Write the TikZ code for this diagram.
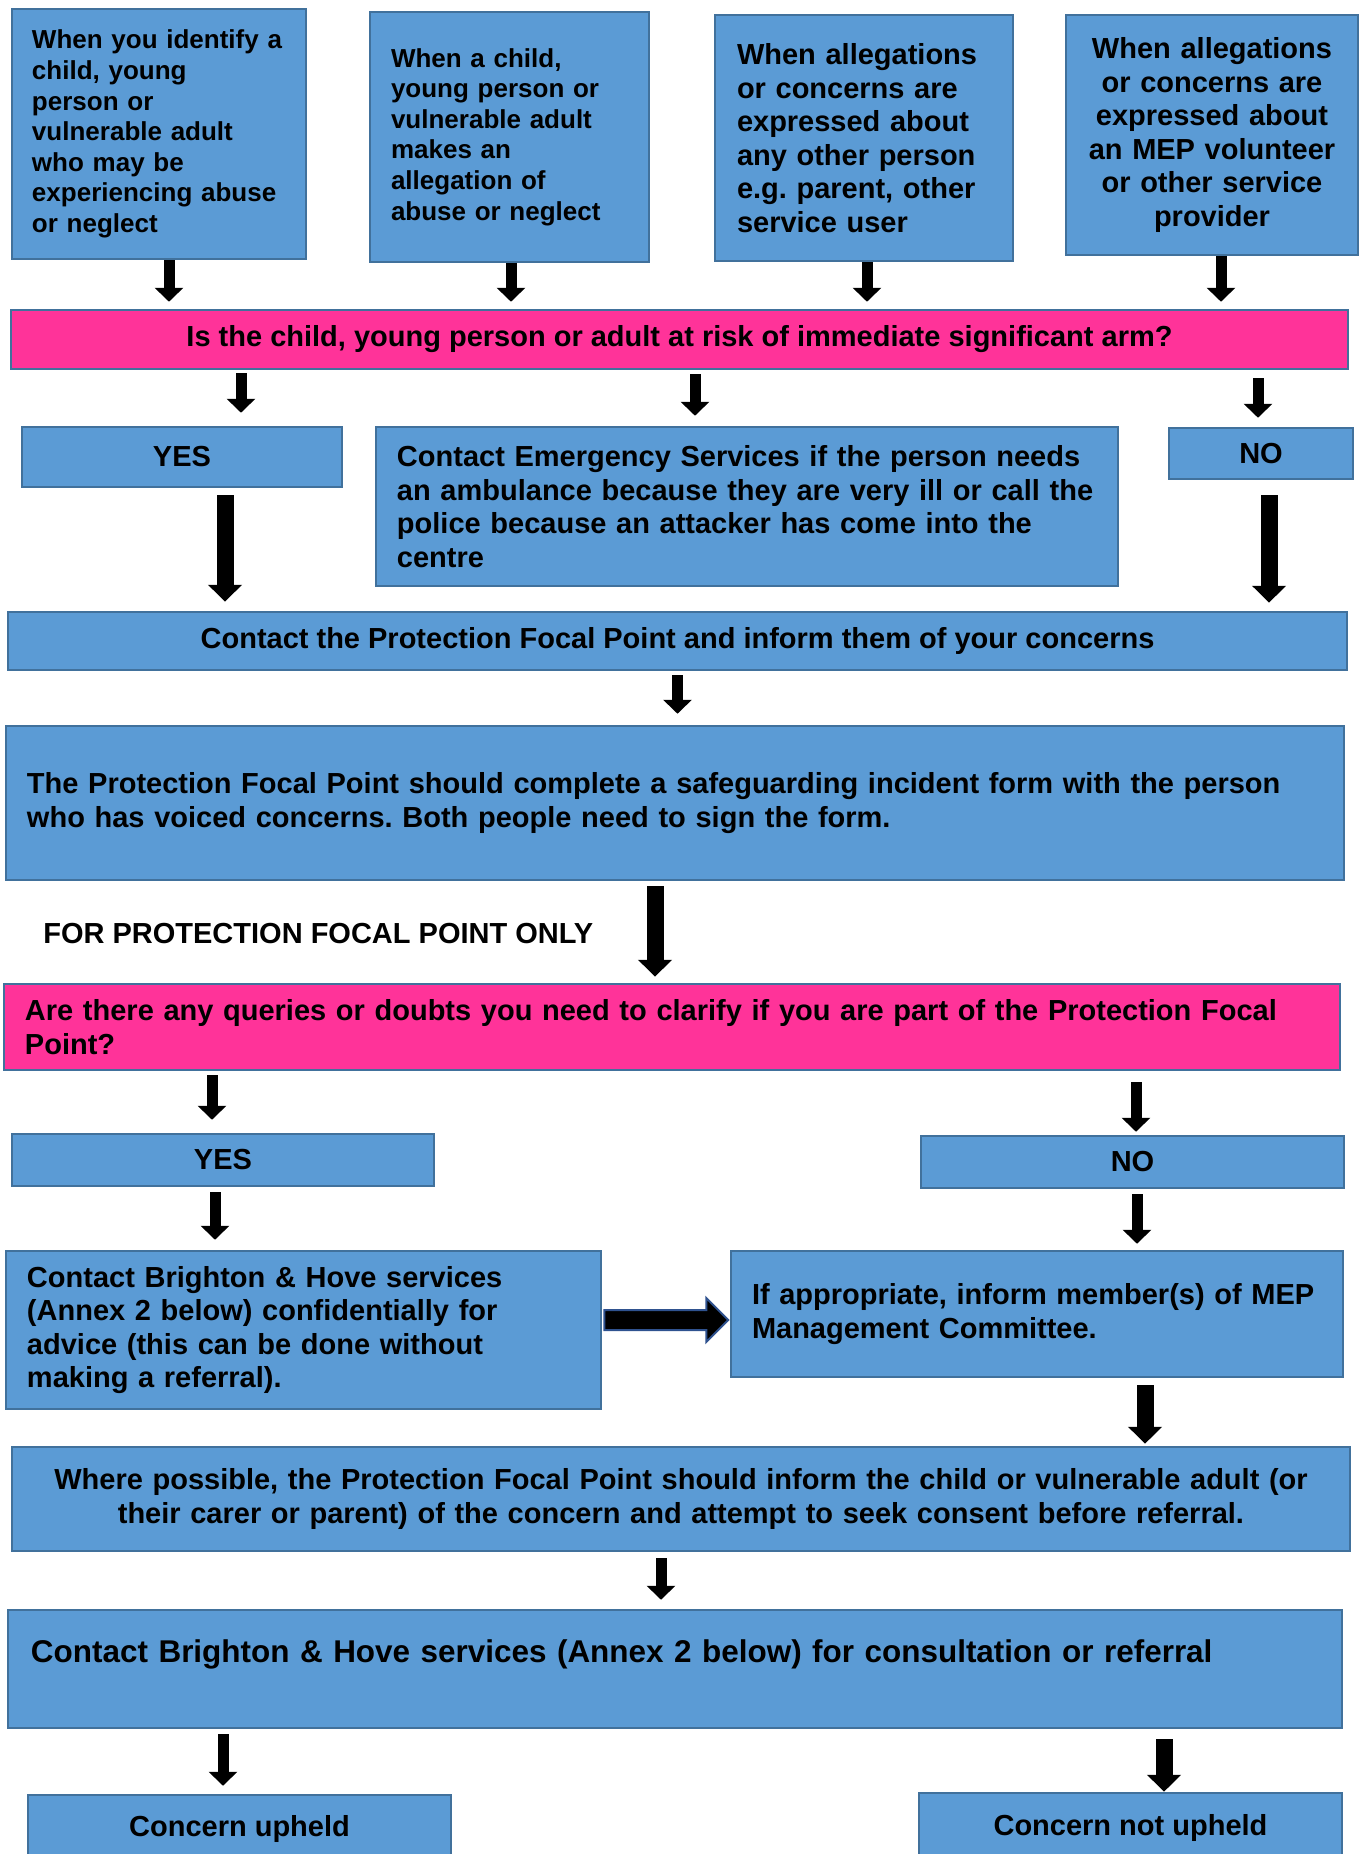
\documentclass[tikz,border=0pt]{standalone}
\usepackage{fontspec}
\setmainfont{Liberation Sans}
\usepackage{xcolor}
\usepackage{tikz}
\usetikzlibrary{arrows.meta,calc}

\definecolor{boxblue}{HTML}{5B9BD5}
\definecolor{boxline}{HTML}{41719C}
\definecolor{alertpink}{HTML}{FF3399}
\definecolor{arrowline}{HTML}{2F528F}
\newcommand{\sizeA}{\fontsize{14.8}{17.4}\selectfont}
\newcommand{\sizeB}{\fontsize{16.5}{19.1}\selectfont}
\newcommand{\sizeC}{\fontsize{17.9}{21}\selectfont}
\frenchspacing

\begin{document}
\begin{tikzpicture}[x=0.2mm, y=-0.2mm,
    box/.style={draw=boxline, fill=boxblue, line width=0.5mm, inner ysep=0pt, inner xsep=4.2mm, font=\sizeB\bfseries},
    alert/.style={box, fill=alertpink},
    arr/.style={line width=2.2mm, -{Triangle[length=2.8mm, width=5.6mm]}},
    bigarr/.style={line width=3.4mm, -{Triangle[length=3.4mm, width=6.6mm]}}]
    \useasboundingbox (0,0) rectangle (1362,1854);
    \clip (0,0) rectangle (1362,1854);

    \node[box, font=\sizeA\bfseries, inner xsep=4mm, minimum width=58.8mm, minimum height=50mm, text width=50.8mm, align=left] (identify) at (159,134)
        {When you identify a\\child, young\\person or\\vulnerable adult\\who may be\\experiencing abuse\\or neglect};
    \node[box, font=\sizeA\bfseries, minimum width=55.8mm, minimum height=50mm, text width=47.4mm, align=left] (allege) at (509.5,137)
        {When a child,\\young person or\\vulnerable adult\\makes an\\allegation of\\abuse or neglect};
    \node[box, inner xsep=4.4mm, minimum width=59.6mm, minimum height=49.2mm, text width=50.8mm, align=left] (other) at (864,138)
        {When allegations\\or concerns are\\expressed about\\any other person\\e.g. parent, other\\service user};
    \node[box, inner xsep=3mm, minimum width=58.4mm, minimum height=48mm, text width=52.4mm, align=center] (volunteer) at (1212,135)
        {When allegations\\or concerns are\\expressed about\\an MEP volunteer\\or other service\\provider};
    \node[alert, minimum width=267.4mm, minimum height=11.8mm] (risk) at (679.5,339.5)
        {Is the child, young person or adult at risk of immediate significant arm?};
    \node[box, minimum width=64mm, minimum height=12mm] (yesA) at (182,457) {YES};
    \node[box, minimum width=148.4mm, minimum height=31.8mm, text width=140mm, align=left] (emergency) at (747,506.5)
        {Contact Emergency Services if the person needs\\an ambulance because they are very ill or call the\\police because an attacker has come into the\\centre};
    \node[box, minimum width=36.8mm, minimum height=10.2mm] (noA) at (1261,453.5) {NO};
    \node[box, minimum width=267.8mm, minimum height=11.6mm] (focal) at (677.5,641)
        {Contact the Protection Focal Point and inform them of your concerns};
    \node[box, minimum width=267.6mm, minimum height=30.8mm, text width=259.2mm, align=left] (form) at (675,803)
        {The Protection Focal Point should complete a safeguarding incident form with the person\\who has voiced concerns. Both people need to sign the form.};
    \node[font=\sizeB\bfseries, anchor=west, inner sep=0pt] (only) at (43,934) {FOR PROTECTION FOCAL POINT ONLY};
    \node[alert, minimum width=267.2mm, minimum height=17.2mm, text width=258.8mm, align=left] (query) at (672,1027)
        {Are there any queries or doubts you need to clarify if you are part of the Protection Focal\\Point?};
    \node[box, minimum width=84.4mm, minimum height=10.4mm] (yesB) at (223,1160) {YES};
    \node[box, minimum width=84.6mm, minimum height=10.4mm] (noB) at (1132.5,1162) {NO};
    \node[box, minimum width=119mm, minimum height=31.6mm, text width=110.6mm, align=left] (advice) at (303.5,1330)
        {Contact Brighton \& Hove services\\(Annex 2 below) confidentially for\\advice (this can be done without\\making a referral).};
    \node[box, minimum width=122.4mm, minimum height=25.2mm, text width=114mm, align=left] (inform) at (1037,1314)
        {If appropriate, inform member(s) of MEP\\Management Committee.};
    \node[box, minimum width=267.6mm, minimum height=20.8mm, text width=259.2mm, align=center] (consent) at (681,1499)
        {Where possible, the Protection Focal Point should inform the child or vulnerable adult (or\\their carer or parent) of the concern and attempt to seek consent before referral.};
    \node[box, font=\sizeC\bfseries, inner xsep=4.6mm, minimum width=266.8mm, minimum height=23.6mm, text width=257.6mm, align=left, text depth=7mm] (referral) at (675,1669)
        {Contact Brighton \& Hove services (Annex 2 below) for consultation or referral};
    \node[box, minimum width=84.6mm, minimum height=13.6mm] (upheld) at (239.5,1829) {Concern upheld};
    \node[box, minimum width=84.6mm, minimum height=14mm] (notupheld) at (1130.5,1828) {Concern not upheld};

    \draw[arr, shorten >=1.4mm] ([xshift=2mm]identify.south) -- ([xshift=2mm]identify.south |- risk.north);
    \draw[arr, shorten >=1.4mm] ([xshift=0.3mm]allege.south) -- ([xshift=0.3mm]allege.south |- risk.north);
    \draw[arr, shorten >=1.4mm] ([xshift=0.6mm]other.south) -- ([xshift=0.6mm]other.south |- risk.north);
    \draw[arr, shorten >=1.4mm] ([xshift=1.8mm]volunteer.south) -- ([xshift=1.8mm]volunteer.south |- risk.north);

    \draw[arr, shorten <=0.6mm, shorten >=2.6mm] ([xshift=11.8mm]yesA.north |- risk.south) -- ([xshift=11.8mm]yesA.north);
    \draw[arr, shorten <=0.8mm, shorten >=2mm] ([xshift=-10.4mm]emergency.north |- risk.south) -- ([xshift=-10.4mm]emergency.north);
    \draw[arr, shorten <=1.6mm, shorten >=1.8mm] ([xshift=-0.6mm]noA.north |- risk.south) -- ([xshift=-0.6mm]noA.north);

    \draw[bigarr, shorten <=1.4mm, shorten >=1.8mm] ([xshift=8.6mm]yesA.south) -- ([xshift=8.6mm]yesA.south |- focal.north);
    \draw[bigarr, shorten <=3mm, shorten >=1.6mm] ([xshift=1.6mm]noA.south) -- ([xshift=1.6mm]noA.south |- focal.north);
    \draw[arr, shorten <=0.8mm, shorten >=2.2mm] (focal.south) -- (focal.south |- form.north);
    \draw[bigarr, shorten <=1mm, shorten >=1.2mm] ([xshift=-4mm]form.south) -- ([xshift=-4mm]form.south |- query.north);

    \draw[arr, shorten <=0.8mm, shorten >=2.6mm] ([xshift=-2.2mm]yesB.north |- query.south) -- ([xshift=-2.2mm]yesB.north);
    \draw[arr, shorten <=2.2mm, shorten >=0.6mm] ([xshift=0.7mm]noB.north |- query.south) -- ([xshift=0.7mm]noB.north);
    \draw[arr, shorten <=1mm, shorten >=2mm] ([xshift=-1.6mm]yesB.south) -- ([xshift=-1.6mm]yesB.south |- advice.north);
    \draw[arr, shorten <=1mm, shorten >=1.2mm] ([xshift=0.9mm]noB.south) -- ([xshift=0.9mm]noB.south |- inform.north);

    \draw[draw=arrowline, fill=black, line width=0.4mm, line join=miter] ($(advice.east)+(2,-20)$) -- ++(102,0) -- ++(0,-12)
        -- ++(22,22) -- ++(-22,22) -- ++(0,-12) -- ++(-102,0) -- cycle;

    \draw[bigarr, shorten <=1.4mm, shorten >=0.4mm] ([xshift=21.6mm]inform.south) -- ([xshift=21.6mm]inform.south |- consent.north);
    \draw[arr, shorten <=1.2mm, shorten >=1.8mm] ([xshift=-4mm]consent.south) -- ([xshift=-4mm]consent.south |- referral.north);
    \draw[arr, shorten <=1mm, shorten >=1.6mm] ([xshift=-3.3mm]upheld.north |- referral.south) -- ([xshift=-3.3mm]upheld.north);
    \draw[bigarr, shorten <=2mm] ([xshift=6.7mm]notupheld.north |- referral.south) -- ([xshift=6.7mm]notupheld.north);
\end{tikzpicture}
\end{document}
